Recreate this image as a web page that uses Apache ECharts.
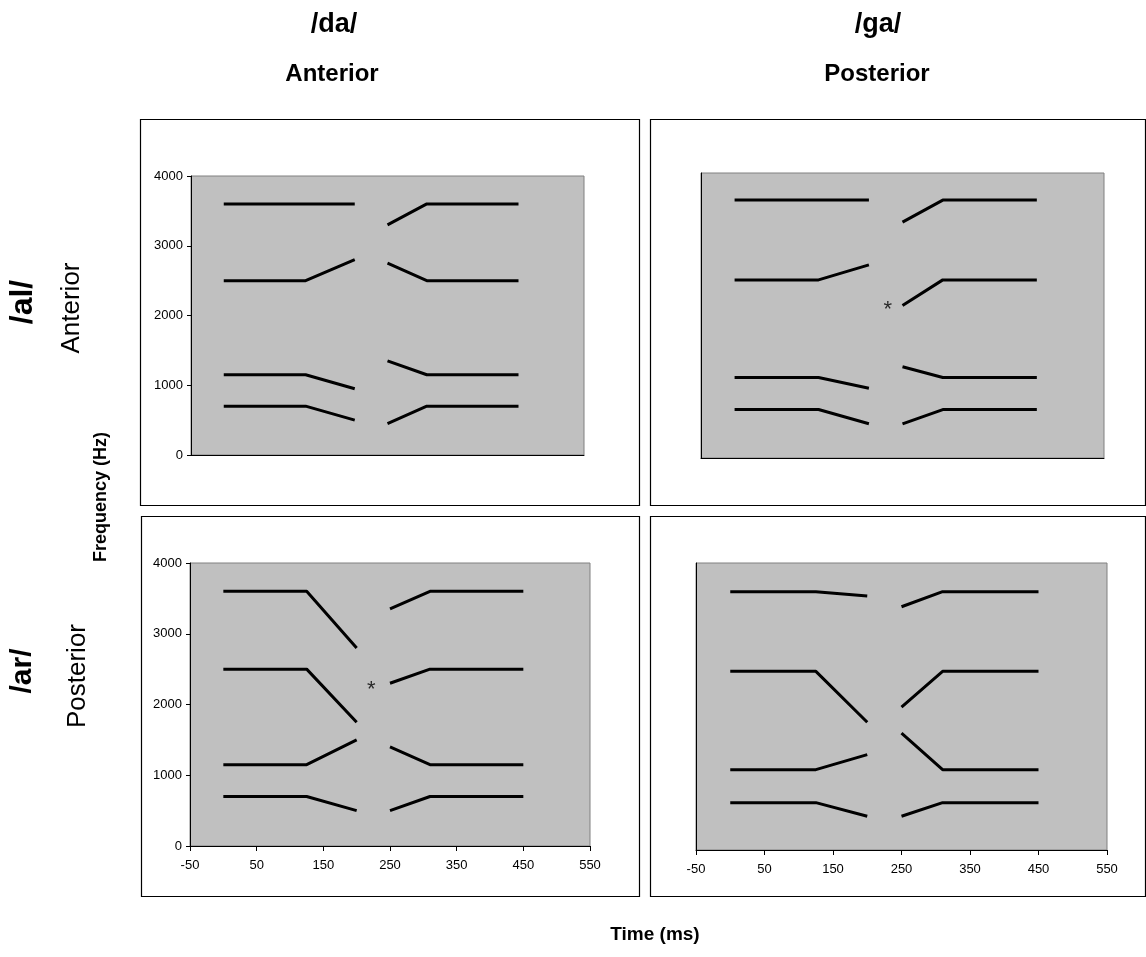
<!DOCTYPE html>
<html><head><meta charset="utf-8">
<script src="https://cdn.jsdelivr.net/npm/echarts@6/dist/echarts.min.js"></script>
<style>html,body{margin:0;padding:0;background:#fff}#c{width:1146px;height:957px}</style>
</head><body><div id="c"></div>
<script>
// time points (ms): first transition block, second transition block
const timeA = [0, 125, 200];
const timeB = [250, 310, 450];
const xTicks = [-50, 50, 150, 250, 350, 450, 550];
const yTicks = [0, 1000, 2000, 3000, 4000];

// /da/ + /al/ (top-left); each array: values at timeA then timeB
const daAl_F1 = [700, 700, 500, 450, 700, 700];
const daAl_F2 = [1150, 1150, 950, 1350, 1150, 1150];
const daAl_F3 = [2500, 2500, 2800, 2750, 2500, 2500];
const daAl_F4 = [3600, 3600, 3600, 3300, 3600, 3600];
// /ga/ + /al/ (top-right)
const gaAl_F1 = [680, 680, 480, 480, 680, 680];
const gaAl_F2 = [1130, 1130, 980, 1280, 1130, 1130];
const gaAl_F3 = [2500, 2500, 2710, 2140, 2500, 2500];
const gaAl_F4 = [3620, 3620, 3620, 3310, 3620, 3620];
// /da/ + /ar/ (bottom-left)
const daAr_F1 = [700, 700, 500, 500, 700, 700];
const daAr_F2 = [1150, 1150, 1500, 1400, 1150, 1150];
const daAr_F3 = [2500, 2500, 1750, 2300, 2500, 2500];
const daAr_F4 = [3600, 3600, 2800, 3350, 3600, 3600];
// /ga/ + /ar/ (bottom-right)
const gaAr_F1 = [660, 660, 470, 470, 660, 660];
const gaAr_F2 = [1120, 1120, 1330, 1630, 1120, 1120];
const gaAr_F3 = [2490, 2490, 1780, 1990, 2490, 2490];
const gaAr_F4 = [3600, 3600, 3540, 3390, 3600, 3600];

// asterisk markers [time, frequency]
const starGaAl = [228, 2080];
const starDaAr = [222, 2200];

const panels = [
  {F: [daAl_F1, daAl_F2, daAl_F3, daAl_F4], star: null, grid: {left: 191, top: 176, width: 393, height: 279}, ylab: true, xlab: false},
  {F: [gaAl_F1, gaAl_F2, gaAl_F3, gaAl_F4], star: starGaAl, grid: {left: 701, top: 173, width: 403, height: 285}, ylab: false, xlab: false},
  {F: [daAr_F1, daAr_F2, daAr_F3, daAr_F4], star: starDaAr, grid: {left: 190, top: 563, width: 400, height: 283}, ylab: true, xlab: true},
  {F: [gaAr_F1, gaAr_F2, gaAr_F3, gaAr_F4], star: null, grid: {left: 696, top: 563, width: 411, height: 287}, ylab: false, xlab: true}
];

const FONT = 'Liberation Sans, Arial, sans-serif';

const grids = [], xAxes = [], yAxes = [], series = [];
panels.forEach((p, i) => {
  grids.push(Object.assign({show: true, backgroundColor: '#C0C0C0', borderColor: '#808080', borderWidth: 1}, p.grid));
  xAxes.push({
    type: 'value', gridIndex: i, min: xTicks[0], max: xTicks[xTicks.length - 1], interval: 100,
    axisLine: {show: true, onZero: false, lineStyle: {color: '#000', width: 1}},
    axisTick: {show: p.xlab, length: 5, lineStyle: {color: '#000'}},
    axisLabel: {show: p.xlab, color: '#000', fontSize: 13, fontFamily: FONT, margin: 13, formatter: v => String(v)},
    splitLine: {show: false}
  });
  yAxes.push({
    type: 'value', gridIndex: i, min: yTicks[0], max: yTicks[yTicks.length - 1], interval: 1000,
    axisLine: {show: true, onZero: false, lineStyle: {color: '#000', width: 1}},
    axisTick: {show: p.ylab, length: 4, lineStyle: {color: '#000'}},
    axisLabel: {show: p.ylab, color: '#000', fontSize: 13, fontFamily: FONT, margin: 8, formatter: v => String(v)},
    splitLine: {show: false}
  });
  p.F.forEach(arr => {
    [[timeA, arr.slice(0, 3)], [timeB, arr.slice(3, 6)]].forEach(([t, v]) => {
      series.push({
        type: 'line', xAxisIndex: i, yAxisIndex: i, showSymbol: false, symbol: 'none', silent: true,
        lineStyle: {color: '#000', width: 3}, animation: false,
        data: t.map((x, k) => [x, v[k]])
      });
    });
  });
  if (p.star) {
    series.push({
      type: 'scatter', xAxisIndex: i, yAxisIndex: i, symbolSize: 1, itemStyle: {color: 'rgba(0,0,0,0)'},
      label: {show: true, position: 'inside', formatter: '*', color: '#000', fontSize: 22, fontFamily: FONT},
      data: [p.star], animation: false, silent: true
    });
  }
});

const boxes = [
  {x: 140, y: 119, w: 499, h: 386},
  {x: 650, y: 119, w: 495, h: 386},
  {x: 141, y: 516, w: 498, h: 380},
  {x: 650, y: 516, w: 495, h: 380}
];
const graphic = boxes.map(b => ({type: 'rect', z: -10, shape: {x: b.x + 0.5, y: b.y + 0.5, width: b.w, height: b.h}, style: {fill: '#fff', stroke: '#000', lineWidth: 1.2}}));

function txt(x, y, text, size, weight, rot) {
  return {type: 'text', x: x, y: y, rotation: rot ? Math.PI / 2 : 0, z: 10,
    style: {text: text, fill: '#000', font: weight + ' ' + size + 'px ' + FONT, textAlign: 'center', textVerticalAlign: 'middle'}};
}
graphic.push(txt(334, 25, '/da/', 27, 'bold', false));
graphic.push(txt(332, 74, 'Anterior', 24, 'bold', false));
graphic.push(txt(878, 25, '/ga/', 27, 'bold', false));
graphic.push(txt(877, 74, 'Posterior', 24, 'bold', false));
graphic.push(txt(23, 302, '/al/', 32, 'bold', true));
graphic.push(txt(72, 308, 'Anterior', 26, 'normal', true));
graphic.push(txt(101, 497, 'Frequency (Hz)', 18, 'bold', true));
graphic.push(txt(23, 671, '/ar/', 30, 'bold', true));
graphic.push(txt(78, 676, 'Posterior', 26, 'normal', true));
graphic.push(txt(655, 935, 'Time (ms)', 19, 'bold', false));

const chart = echarts.init(document.getElementById('c'), null, {renderer: 'canvas'});
chart.setOption({animation: false, backgroundColor: '#fff', grid: grids, xAxis: xAxes, yAxis: yAxes, series: series, graphic: graphic});
</script></body></html>
